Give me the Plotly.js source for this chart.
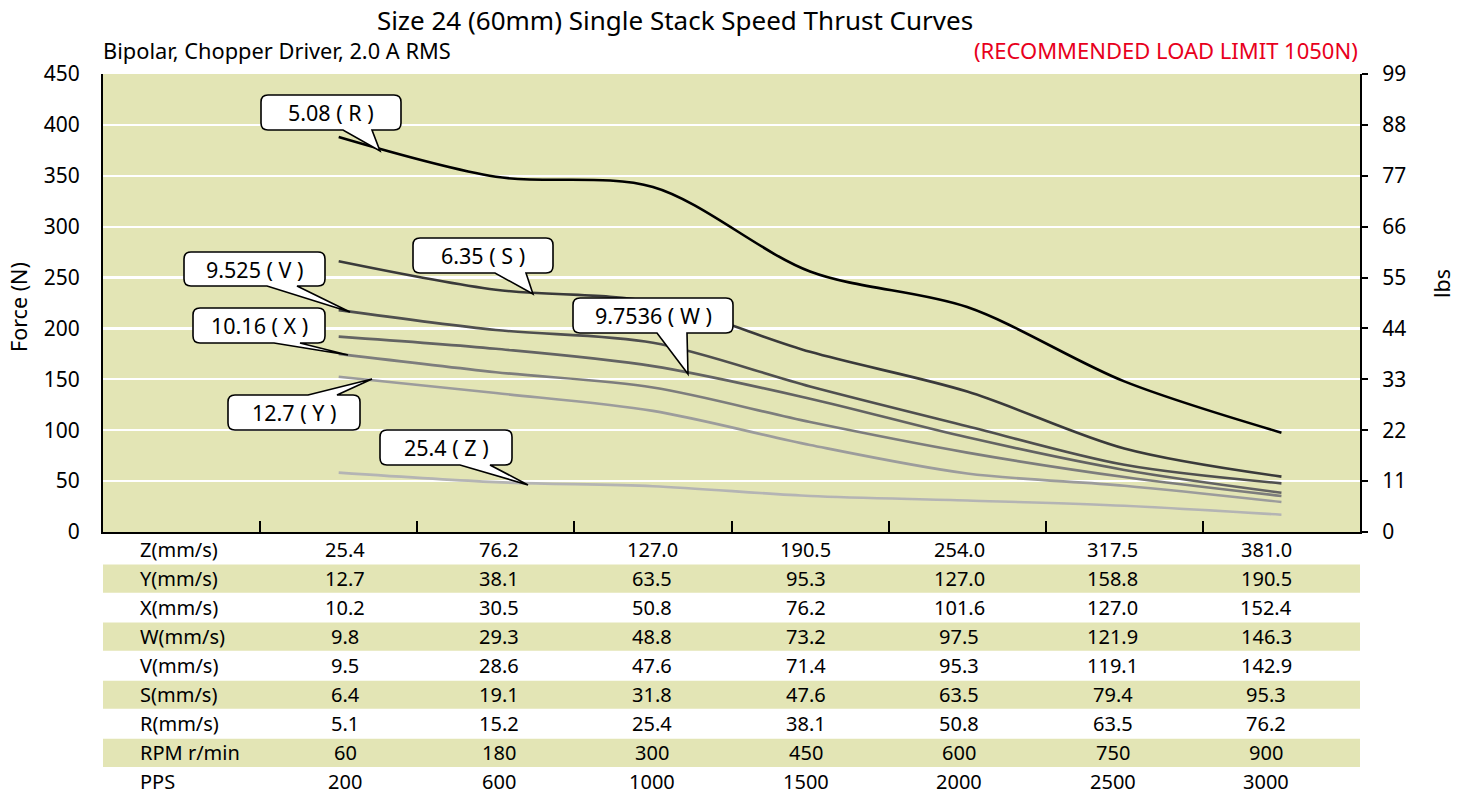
<!DOCTYPE html>
<html>
<head>
<meta charset="utf-8">
<script src="https://cdn.plot.ly/plotly-3.0.1.min.js"></script>
<style>
  html, body { margin: 0; padding: 0; background: #ffffff; }
  #chart { width: 1459px; height: 796px; }
</style>
</head>
<body>
<div id="chart"></div>
<script>
// ---------------- DATA ----------------
const ppsSteps = ['200', '600', '1000', '1500', '2000', '2500', '3000'];

// Force (N) curves, one per lead screw
const forceR = [388, 349, 339, 256, 221, 148, 97.6];
const forceS = [266, 238, 226, 177, 138, 82, 54.4];
const forceV = [218, 198.5, 186, 143, 104, 66, 47.8];
const forceW = [192, 180, 163, 131, 93, 61, 38.6];
const forceX = [175, 157, 142, 108, 78, 54, 35.4];
const forceY = [152.6, 136.5, 119, 85.5, 57.5, 45.5, 29.5];
const forceZ = [58.3, 49, 45, 35.4, 31, 25.8, 17];

const seriesNames = ['R', 'S', 'V', 'W', 'X', 'Y', 'Z'];
const leadLabels = ['5.08 ( R )', '6.35 ( S )', '9.525 ( V )', '9.7536 ( W )', '10.16 ( X )', '12.7 ( Y )', '25.4 ( Z )'];

// Table below the chart
const rowLabels = ['Z(mm/s)', 'Y(mm/s)', 'X(mm/s)', 'W(mm/s)', 'V(mm/s)', 'S(mm/s)', 'R(mm/s)', 'RPM r/min', 'PPS'];
const speedZ = ['25.4', '76.2', '127.0', '190.5', '254.0', '317.5', '381.0'];
const speedY = ['12.7', '38.1', '63.5', '95.3', '127.0', '158.8', '190.5'];
const speedX = ['10.2', '30.5', '50.8', '76.2', '101.6', '127.0', '152.4'];
const speedW = ['9.8', '29.3', '48.8', '73.2', '97.5', '121.9', '146.3'];
const speedV = ['9.5', '28.6', '47.6', '71.4', '95.3', '119.1', '142.9'];
const speedS = ['6.4', '19.1', '31.8', '47.6', '63.5', '79.4', '95.3'];
const speedR = ['5.1', '15.2', '25.4', '38.1', '50.8', '63.5', '76.2'];
const rpmValues = ['60', '180', '300', '450', '600', '750', '900'];
const ppsValues = ['200', '600', '1000', '1500', '2000', '2500', '3000'];

const forceTicks = [0, 50, 100, 150, 200, 250, 300, 350, 400, 450];
const lbsTicks = [0, 11, 22, 33, 44, 55, 66, 77, 88, 99];

// ---------------- LAYOUT HELPERS ----------------
const FONT = 'Noto Sans, Open Sans, DejaVu Sans, sans-serif';
const PL = 103, PR = 1360, PT = 74, PB = 532;
const px2x = px => (px - PL) / (PR - PL);
const py2y = py => (PB - py) / (PB - PT);

const xIdx = ppsSteps.map((_, i) => i);
const allForces = [forceR, forceS, forceV, forceW, forceX, forceY, forceZ];
const colors = ['#000000', '#3a3a3a', '#4f4f4f', '#636363', '#7d7d7d', '#9c9c9c', '#b4b4b4'];

const traces = allForces.map((f, k) => ({
  type: 'scatter', mode: 'lines',
  x: xIdx, y: f, name: seriesNames[k],
  line: { color: colors[k], width: 2.6, shape: 'spline', smoothing: 0.9 },
  hoverinfo: 'skip', showlegend: false
}));
// invisible trace to activate the right (lbs) axis
traces.push({ type: 'scatter', x: [0], y: [0], yaxis: 'y2', mode: 'markers',
  marker: { opacity: 0 }, hoverinfo: 'skip', showlegend: false });

const shapes = [];
const annotations = [];

// table stripes and text
const tableRows = [speedZ, speedY, speedX, speedW, speedV, speedS, speedR, rpmValues, ppsValues];
const rowY0 = 549.5, rowPitch = 29.05;
const colX0 = 345, colPitch = 153.5;
const tableFont = { family: FONT, size: 20, color: '#000' };
tableRows.forEach((vals, r) => {
  const cy = rowY0 + r * rowPitch;
  if (r % 2 === 1) {
    shapes.push({ type: 'rect', xref: 'paper', yref: 'paper', layer: 'below',
      x0: 0, x1: 1, y0: py2y(cy - 14.1), y1: py2y(cy + 14.1),
      fillcolor: '#e3e5b5', line: { width: 0 } });
  }
  annotations.push({ xref: 'paper', yref: 'paper', x: px2x(139), y: py2y(cy),
    xanchor: 'left', yanchor: 'middle', showarrow: false, text: rowLabels[r],
    borderpad: 0, font: tableFont });
  vals.forEach((v, c) => {
    annotations.push({ xref: 'paper', yref: 'paper', x: px2x(colX0 + c * colPitch), y: py2y(cy),
      xanchor: 'center', yanchor: 'middle', showarrow: false, text: v,
      borderpad: 0, font: tableFont });
  });
});

// callouts: box [x0,y0,x1,y1], pointer base [bx0,bx1], tip [tx,ty], side
const callouts = [
  { box: [261, 95, 401, 130], base: [343, 372], tip: [380, 151], side: 'bottom' },
  { box: [413, 238, 553, 273], base: [495, 526], tip: [533, 294], side: 'bottom' },
  { box: [184, 252, 325, 286], base: [267, 297], tip: [350, 312], side: 'bottom' },
  { box: [573, 298, 733, 333], base: [657, 687], tip: [688, 374], side: 'bottom' },
  { box: [193, 308, 325, 343], base: [274, 300], tip: [348, 355], side: 'bottom' },
  { box: [228, 395, 360, 430], base: [308, 337], tip: [372, 379], side: 'top' },
  { box: [380, 430, 512, 465], base: [460, 490], tip: [528, 485], side: 'bottom' }
];
const rad = 7;
callouts.forEach((c, k) => {
  const [x0, y0, x1, y1] = c.box;
  const P = (x, y) => px2x(x).toFixed(5) + ',' + py2y(y).toFixed(5);
  let d = 'M' + P(x0 + rad, y0);
  if (c.side === 'top') {
    d += ' L' + P(c.base[0], y0) + ' L' + P(c.tip[0], c.tip[1]) + ' L' + P(c.base[1], y0);
  }
  d += ' L' + P(x1 - rad, y0) + ' Q' + P(x1, y0) + ' ' + P(x1, y0 + rad);
  d += ' L' + P(x1, y1 - rad) + ' Q' + P(x1, y1) + ' ' + P(x1 - rad, y1);
  if (c.side === 'bottom') {
    d += ' L' + P(c.base[1], y1) + ' L' + P(c.tip[0], c.tip[1]) + ' L' + P(c.base[0], y1);
  }
  d += ' L' + P(x0 + rad, y1) + ' Q' + P(x0, y1) + ' ' + P(x0, y1 - rad);
  d += ' L' + P(x0, y0 + rad) + ' Q' + P(x0, y0) + ' ' + P(x0 + rad, y0) + ' Z';
  shapes.push({ type: 'path', xref: 'paper', yref: 'paper', layer: 'above', path: d,
    fillcolor: '#ffffff', line: { color: '#000000', width: 1.6 } });
  annotations.push({ xref: 'paper', yref: 'paper', x: px2x((x0 + x1) / 2), y: py2y((y0 + y1) / 2),
    xanchor: 'center', yanchor: 'middle', showarrow: false, text: leadLabels[k],
    font: { family: FONT, size: 21.5, color: '#000' } });
});

// headings and axis titles
annotations.push({ xref: 'paper', yref: 'paper', x: px2x(101), y: py2y(50), xanchor: 'left', yanchor: 'middle',
  showarrow: false, text: 'Bipolar, Chopper Driver, 2.0 A RMS', font: { family: FONT, size: 21.8, color: '#000' } });
annotations.push({ xref: 'paper', yref: 'paper', x: px2x(1360), y: py2y(50), xanchor: 'right', yanchor: 'middle',
  showarrow: false, text: '(RECOMMENDED LOAD LIMIT 1050N)', font: { family: FONT, size: 22, color: '#e8001c' } });
annotations.push({ xref: 'paper', yref: 'paper', x: px2x(18), y: py2y(307), xanchor: 'center', yanchor: 'middle',
  showarrow: false, textangle: -90, text: 'Force (N)', font: { family: FONT, size: 21.5, color: '#000' } });
annotations.push({ xref: 'paper', yref: 'paper', x: px2x(1441), y: py2y(283), xanchor: 'center', yanchor: 'middle',
  showarrow: false, textangle: -90, text: 'lbs', font: { family: FONT, size: 21.5, color: '#000' } });

const layout = {
  width: 1459, height: 796,
  margin: { l: PL, r: 1459 - PR, t: PT, b: 796 - PB, pad: 0 },
  paper_bgcolor: '#ffffff', plot_bgcolor: '#e3e5b5',
  title: { text: 'Size 24 (60mm) Single Stack Speed Thrust Curves', x: 675 / 1459, xanchor: 'center',
    y: 1 - 21 / 796, yanchor: 'middle', font: { family: FONT, size: 26, color: '#000' } },
  showlegend: false,
  xaxis: {
    range: [-1.5, 6.5], showgrid: false, zeroline: false, showticklabels: false,
    showline: true, linecolor: '#000', linewidth: 2,
    tickmode: 'array', tickvals: xIdx.map(i => i - 0.5), ticks: 'inside', ticklen: 11, tickwidth: 2, tickcolor: '#000'
  },
  yaxis: {
    range: [0, 450], tickmode: 'array', tickvals: forceTicks, showgrid: true, gridcolor: '#ffffff', gridwidth: 2.2,
    zeroline: false, showline: true, linecolor: '#000', linewidth: 2, ticks: '',
    ticklabelstandoff: 17, tickfont: { family: FONT, size: 21, color: '#000' }
  },
  yaxis2: {
    range: [0, 99], overlaying: 'y', side: 'right', tickmode: 'array', tickvals: lbsTicks,
    showgrid: false, zeroline: false, showline: true, linecolor: '#000', linewidth: 2,
    ticks: 'outside', ticklen: 6, tickwidth: 2, tickcolor: '#000',
    ticklabelstandoff: 10, tickfont: { family: FONT, size: 21, color: '#000' }
  },
  shapes: shapes,
  annotations: annotations
};

Plotly.newPlot('chart', traces, layout, { displayModeBar: false, staticPlot: true });
</script>
</body>
</html>
